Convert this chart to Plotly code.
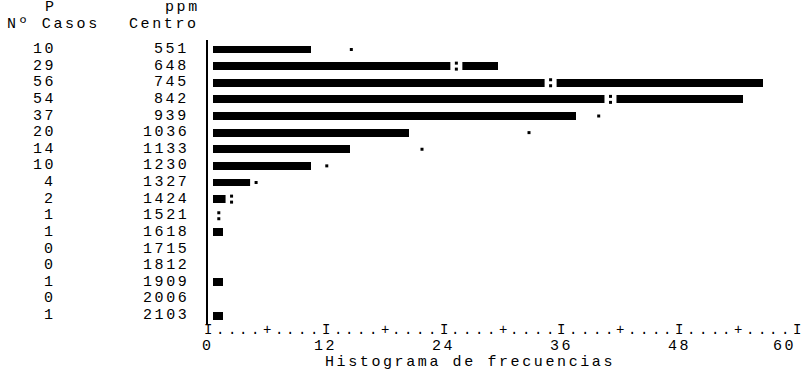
import plotly.graph_objects as go

# Frequency table: class centre (ppm) and number of cases per class
centros = ["551", "648", "745", "842", "939", "1036", "1133", "1230", "1327",
           "1424", "1521", "1618", "1715", "1812", "1909", "2006", "2103"]
casos = [10, 29, 56, 54, 37, 20, 14, 10, 4, 2, 1, 1, 0, 0, 1, 0, 1]

# Fitted normal curve (expected cases per class) and the glyph used to print it
esperados = [14.6, 25.3, 34.9, 41.0, 39.8, 32.7, 21.8, 12.1, 4.9, 2.4, 1.1,
             None, None, None, None, None, None]
marca_curva = [".", ":", ":", ":", ".", ".", ".", ".", ".", ":", ":",
               "", "", "", "", "", ""]

# Frequency axis: printed ruler, one character every 1.2 cases
regla = "I....+....I....+....I....+....I....+....I....+....I"
paso_regla = 1.2
ticks = [0, 12, 24, 36, 48, 60]

FONT = "Courier New, Liberation Mono, monospace"
LS = "letter-spacing:2.6px"


def spaced(s):
    return f'<span style="{LS}">{s}</span>'


filas = list(range(len(centros)))

fig = go.Figure()

# Histogram bars (printed one character to the right of the axis)
fig.add_trace(go.Bar(
    y=filas, x=casos, base=0.5, orientation="h", width=0.48,
    marker=dict(color="black", line=dict(width=0)),
    hoverinfo="skip", showlegend=False,
))

# Normal curve: a blank cell is cut out of the bar where the glyph is printed
fy, fx = [], []
for r, e in enumerate(esperados):
    if e is not None:
        fy.append(r)
        fx.append(e)
fig.add_trace(go.Scatter(
    x=fx, y=fy, mode="markers",
    marker=dict(symbol="square", size=12, color="white", line=dict(width=0)),
    hoverinfo="skip", showlegend=False,
))

dx, dy = [], []
for r, (e, m) in enumerate(zip(esperados, marca_curva)):
    if e is None:
        continue
    if m == ":":
        dx += [e, e]
        dy += [r - 0.18, r + 0.18]
    else:
        dx.append(e)
        dy.append(r)
fig.add_trace(go.Scatter(
    x=dx, y=dy, mode="markers",
    marker=dict(symbol="square", size=3, color="black", line=dict(width=0)),
    hoverinfo="skip", showlegend=False,
))

ann = []
font = dict(family=FONT, size=15, color="black")
font_regla = dict(family=FONT, size=14, color="black")

# Left-hand columns: number of cases and class centre
for r, (n, c) in enumerate(zip(casos, centros)):
    ann.append(dict(x=-0.2564, y=r, xref="paper", yref="y", text=spaced(str(n)),
                    xanchor="right", yanchor="middle", showarrow=False, font=font,
                    borderpad=0))
    ann.append(dict(x=-0.030, y=r, xref="paper", yref="y", text=spaced(c),
                    xanchor="right", yanchor="middle", showarrow=False, font=font,
                    borderpad=0))

# Column headers
for txt, xp, yp in [("P", -0.2665, 1.115), ("Nº Casos", -0.263, 1.054),
                    ("ppm", -0.0425, 1.115), ("Centro", -0.075, 1.054)]:
    ann.append(dict(x=xp, y=yp, xref="paper", yref="paper", text=spaced(txt),
                    xanchor="center", yanchor="middle", showarrow=False, font=font,
                    borderpad=0))

# Printed ruler along the frequency axis
for i, ch in enumerate(regla):
    ann.append(dict(x=i * paso_regla, y=-0.0175, xref="x", yref="paper", text=ch,
                    xanchor="center", yanchor="middle", showarrow=False,
                    font=font_regla, borderpad=0))

# Tick values under the ruler
for t in ticks:
    ann.append(dict(x=t, y=-0.0737, xref="x", yref="paper", text=spaced(str(t)),
                    xanchor="right" if t == ticks[-1] else "center",
                    yanchor="middle", showarrow=False, font=font, borderpad=0))

# Axis caption
ann.append(dict(x=26.7, y=-0.1333, xref="x", yref="paper",
                text=spaced("Histograma de frecuencias"),
                xanchor="center", yanchor="middle", showarrow=False, font=font,
                borderpad=0))

fig.update_layout(
    width=807, height=371,
    margin=dict(l=208, r=10, t=40, b=46),
    paper_bgcolor="white", plot_bgcolor="white",
    xaxis=dict(range=[0, 60], showgrid=False, zeroline=False, showticklabels=False,
               ticks="", showline=False, fixedrange=True),
    yaxis=dict(range=[16.571, -0.571], showgrid=False, zeroline=False,
               showticklabels=False, ticks="", showline=True, linecolor="black",
               linewidth=1.5, fixedrange=True),
    annotations=ann,
    bargap=0,
)

fig.write_html("out.html")
